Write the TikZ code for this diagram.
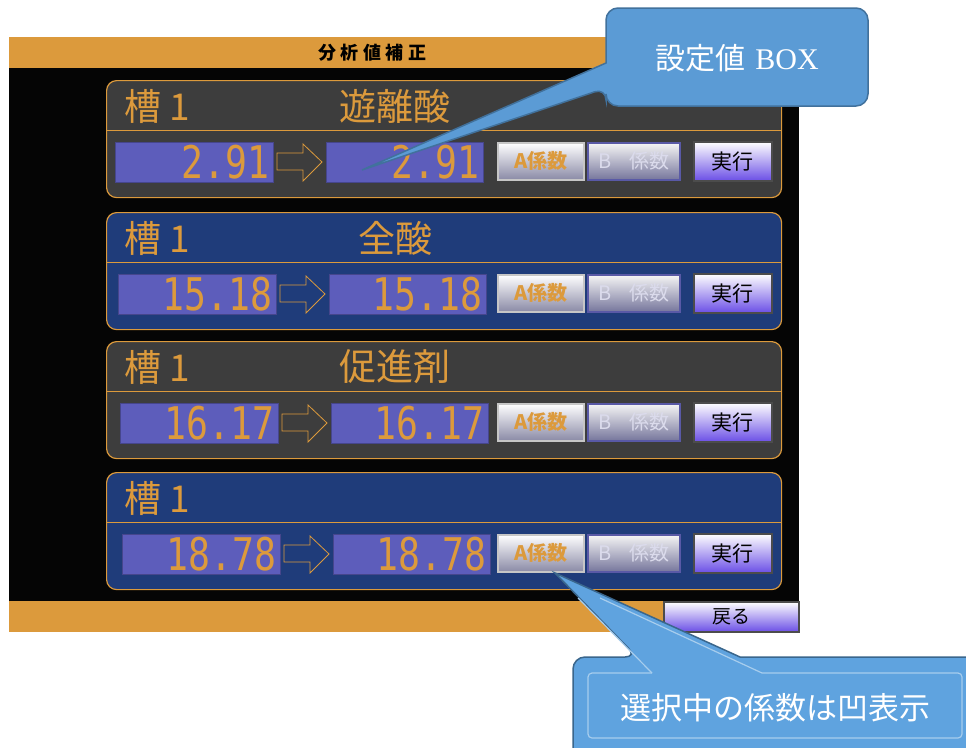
\documentclass[tikz,border=0pt]{standalone}
\usepackage{fontspec}
\newfontfamily\cjk{Noto Sans CJK JP}
\newfontfamily\numf{DejaVu Sans Mono}
\newfontfamily\seriff{Liberation Serif}
\definecolor{hmiorange}{HTML}{DC9A3C}
\definecolor{pgrey}{HTML}{3D3D3D}
\definecolor{pnavy}{HTML}{1F3C7A}
\definecolor{valblue}{HTML}{5D5DBB}
\definecolor{callfill}{HTML}{5B9BD5}
\definecolor{callline}{HTML}{41719C}
\definecolor{callfillb}{HTML}{5FA3DF}
\definecolor{screenblack}{HTML}{050505}
\definecolor{btnbot}{HTML}{8A8AA6}
\definecolor{btnbbot}{HTML}{76769C}
\definecolor{runbot}{HTML}{6B4FE6}
\tikzset{
  panel/.style={draw=hmiorange, line width=1.2pt, rounded corners=10pt, minimum width=675pt, minimum height=117pt, anchor=north west, inner sep=0pt},
  valbox/.style={fill=valblue, draw=valblue!75!black, line width=0.6pt, minimum width=158pt, minimum height=40pt, anchor=north west, inner sep=0pt},
  valtxt/.style={text=hmiorange, font=\numf\fontsize{45}{45}\selectfont, anchor=east, inner sep=0pt},
  ttltxt/.style={text=hmiorange, font=\cjk\fontsize{37}{37}\selectfont, inner sep=0pt},
  hollowarrow/.style={draw=hmiorange, line width=0.8pt},
  btnbase/.style={anchor=north west, inner sep=0pt, line width=1.5pt},
  btnA/.style={btnbase, top color=white, bottom color=btnbot, draw=gray!45, minimum width=86pt, minimum height=37pt, text=hmiorange, font=\cjk\bfseries\fontsize{20}{20}\selectfont},
  btnB/.style={btnbase, top color=gray!8, bottom color=btnbbot, draw=gray!70!blue, minimum width=92pt, minimum height=37pt, text=blue!8!white!85!gray, font=\cjk\fontsize{20}{20}\selectfont},
  btnRun/.style={btnbase, top color=white, bottom color=runbot, draw=gray!60!black, minimum width=78pt, minimum height=39pt, text=black, font=\cjk\fontsize{21}{21}\selectfont},
  calloutshape/.style={fill=callfill, draw=callline, line width=1.5pt},
}
\begin{document}
\begin{tikzpicture}[x=1pt,y=-1pt]
\fill[white] (0,0) rectangle (966,747);
\clip (0,0) rectangle (966,747);
% screen frame
\fill[screenblack] (9,68) rectangle (799,601);
\fill[hmiorange] (9,37) rectangle (799,68);
\fill[hmiorange] (9,601) rectangle (799,632);
\node[font=\cjk\bfseries\fontsize{18}{18}\selectfont, inner sep=0pt] (hdr) at (372,53)
  {分\hspace{4.5pt}析\hspace{4.5pt}値\hspace{4.5pt}補\hspace{4.5pt}正};
% panels
\foreach \i/\T/\dx/\col/\ttl/\val in {1/80/0/pgrey/遊離酸/2.91, 2/212/3/pnavy/全酸/15.18, 3/341/5/pgrey/促進剤/16.17, 4/472/7/pnavy//18.78}{
  \node[panel, fill=\col] (panel\i) at (106,\T) {};
  \draw[hmiorange, line width=1pt] (106,\T+50) -- (781,\T+50);
  \node[ttltxt, anchor=west] (tank\i) at (124,\T+26) {槽 1};
  \node[ttltxt] (acid\i) at (395,\T+26) {\ttl};
  \node[valbox] (cur\i) at (115+\dx,\T+62) {};
  \node[valtxt] (curT\i) at ([xshift=-4pt]cur\i.east) {\scalebox{0.81}[1]{\val}};
  \pgfmathsetmacro\R{273+\dx}
  \draw[hollowarrow] (\R+4,\T+73) -- (\R+30,\T+73) -- (\R+30,\T+64) -- (\R+49,\T+82)
     -- (\R+30,\T+101) -- (\R+30,\T+90) -- (\R+4,\T+90) -- cycle;
  \node[valbox, minimum width=157pt] (new\i) at (326+\dx,\T+62) {};
  \node[valtxt] (newT\i) at ([xshift=-4pt]new\i.east) {\scalebox{0.81}[1]{\val}};
  \node[btnA] (ba\i) at (497,\T+62) {A係数};
  \node[btnB] (bb\i) at (587,\T+62) {B\hspace{18pt}係数};
  \node[btnRun] (run\i) at (693,\T+61) {実行};
}
% back button
\node[btnRun, minimum width=135pt, minimum height=30pt, font=\cjk\fontsize{19}{19}\selectfont] (back) at (663,601) {戻る};
% callout 1
\coordinate (tip1) at (362,170);
\draw[calloutshape, rounded corners=12pt] (737,8) -- (868,8) -- (868,106) -- (606,106) -- (606,88)
   [sharp corners] -- (tip1) -- (606,63) [rounded corners=12pt] -- (606,8) -- cycle;
\node[text=white, inner sep=0pt, font=\fontsize{30}{30}\selectfont] (call1) at (737,58)
   {\cjk 設定値\hspace{10pt}\seriff BOX};
% callout 2
\coordinate (tip2) at (555,573);
\draw[calloutshape, fill=callfillb, draw=callline!90!black, rounded corners=12pt] (800,657) -- (990,657) -- (990,765) -- (573,765) -- (573,657) -- (637,657)
   [sharp corners] -- (tip2) -- (740,657) [rounded corners=12pt] -- cycle;
\draw[callfillb!55!white, line width=1.2pt, rounded corners=4pt] (652,673) -- (588,673) -- (588,738) -- (962,738) -- (962,673) -- (762,673);
\draw[callfillb!55!white, line width=1.2pt] (652,673) -- (578,598);
\draw[callfillb!55!white, line width=1.2pt] (762,673) -- (600,598);
\node[text=white, inner sep=0pt, font=\cjk\fontsize{31}{31}\selectfont] (call2) at (775,708) {選択中の係数は凹表示};
\end{tikzpicture}
\end{document}
